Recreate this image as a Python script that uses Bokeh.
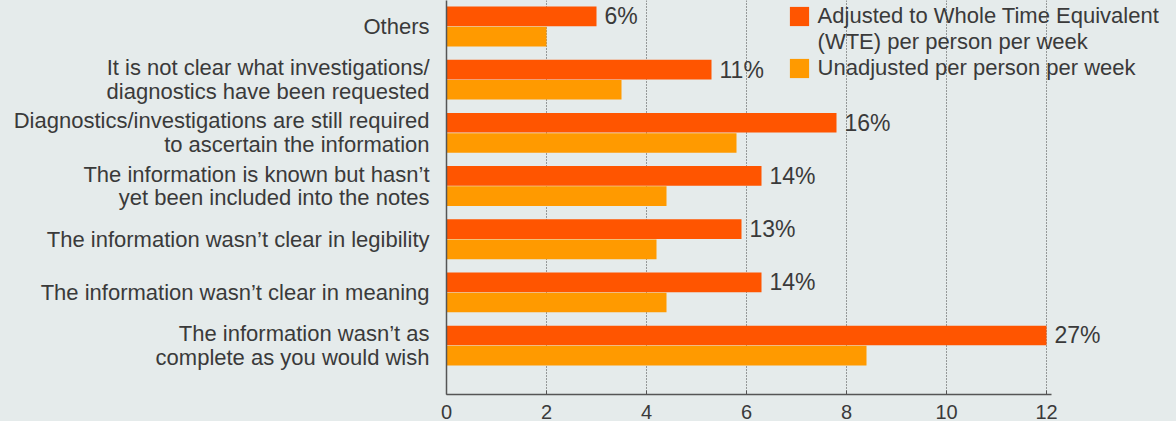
from bokeh.plotting import figure
from bokeh.models import (ColumnDataSource, LabelSet, Range1d, FixedTicker, Legend,
                          LegendItem, GlobalInlineStyleSheet)
from bokeh.core.properties import value
from bokeh.embed import file_html
from bokeh.resources import INLINE

# ---- data ----
categories = [
    "Others",
    "It is not clear what investigations/\ndiagnostics have been requested",
    "Diagnostics/investigations are still required\nto ascertain the information",
    "The information is known but hasn\u2019t\nyet been included into the notes",
    "The information wasn\u2019t clear in legibility",
    "The information wasn\u2019t clear in meaning",
    "The information wasn\u2019t as\ncomplete as you would wish",
]
adjusted = [3.0, 5.3, 7.8, 6.3, 5.9, 6.3, 12.0]
unadjusted = [2.0, 3.5, 5.8, 4.4, 4.2, 4.4, 8.4]
pct_labels = ["6%", "11%", "16%", "14%", "13%", "14%", "27%"]
x_ticks = [0, 2, 4, 6, 8, 10, 12]
legend_lines = ["Adjusted to Whole Time Equivalent",
                "(WTE) per person per week",
                "Unadjusted per person per week"]

# ---- style ----
BG = "#e5ebeb"
RED = "#ff5500"
ORANGE = "#ff9a00"
TXT = "#3a3a3a"
AXIS = "#555555"
FONT = "Liberation Sans"

idx = list(range(len(categories)))
src = ColumnDataSource(dict(
    cat=categories,
    adj=adjusted,
    un=unadjusted,
    pct=pct_labels,
    y=idx,
    y_adj=[i - 0.19 for i in idx],
    y_un=[i + 0.19 for i in idx],
))

p = figure(width=1176, height=421, output_backend="svg", toolbar_location=None,
           x_range=Range1d(0, 14.6), y_range=Range1d(6.92, -0.489),
           min_border_left=446, min_border_right=0, min_border_top=0, min_border_bottom=0,
           background_fill_color=BG, border_fill_color=BG, outline_line_color=None)

p.stylesheets = [GlobalInlineStyleSheet(css="html, body { background-color: %s; }" % BG)]

r1 = p.hbar(y="y_adj", left=0, right="adj", height=0.37, fill_color=RED, line_color=None, source=src)
r2 = p.hbar(y="y_un", left=0, right="un", height=0.37, fill_color=ORANGE, line_color=None, source=src)
# invisible renderer used only for the legend's second text line
r_blank = p.hbar(y=[], left=[], right=[], height=0.37, fill_alpha=0, line_alpha=0)

# x axis
p.xaxis.ticker = FixedTicker(ticks=x_ticks)
p.xaxis.bounds = (0, 12.1)
p.xaxis.axis_line_color = AXIS
p.xaxis.axis_line_width = 1.5
p.xaxis.major_tick_in = 4
p.xaxis.major_tick_out = 0
p.xaxis.major_tick_line_color = AXIS
p.xaxis.minor_tick_line_color = None
p.xaxis.major_label_text_font = FONT
p.xaxis.major_label_text_font_size = "20px"
p.xaxis.major_label_text_color = TXT
p.xaxis.major_label_standoff = 10

# y axis with category labels
p.yaxis.ticker = FixedTicker(ticks=idx)
p.yaxis.major_label_overrides = {i: c for i, c in zip(idx, categories)}
p.yaxis.axis_line_color = AXIS
p.yaxis.axis_line_width = 1.5
p.yaxis.major_tick_line_color = None
p.yaxis.major_tick_in = 0
p.yaxis.major_tick_out = 0
p.yaxis.minor_tick_line_color = None
p.yaxis.major_label_standoff = 17
p.yaxis.major_label_text_font = FONT
p.yaxis.major_label_text_font_size = "22px"
p.yaxis.major_label_text_color = TXT
p.yaxis.major_label_text_line_height = 0.95

p.xgrid.ticker = FixedTicker(ticks=x_ticks)
p.xgrid.grid_line_color = "#444444"
p.xgrid.grid_line_width = 1
p.xgrid.grid_line_dash = "1 2"
p.ygrid.visible = False

# value labels
val_labels = LabelSet(x="adj", y="y_adj", text="pct", source=src, x_offset=8,
                      text_align="left", text_baseline="middle",
                      text_font=value(FONT), text_font_size="23px", text_color=TXT)
p.add_layout(val_labels)

legend = Legend(items=[LegendItem(label=legend_lines[0], renderers=[r1]),
                       LegendItem(label=legend_lines[1], renderers=[r_blank]),
                       LegendItem(label=legend_lines[2], renderers=[r2])],
                location=(340.6, 313), orientation="vertical",
                glyph_width=24, glyph_height=24, label_height=20, label_standoff=7,
                padding=0, spacing=0, margin=0,
                border_line_color=None, background_fill_alpha=0,
                label_text_font=FONT, label_text_font_size="22px", label_text_color=TXT)
p.add_layout(legend)

open("out.html", "w").write(file_html(p, INLINE))
